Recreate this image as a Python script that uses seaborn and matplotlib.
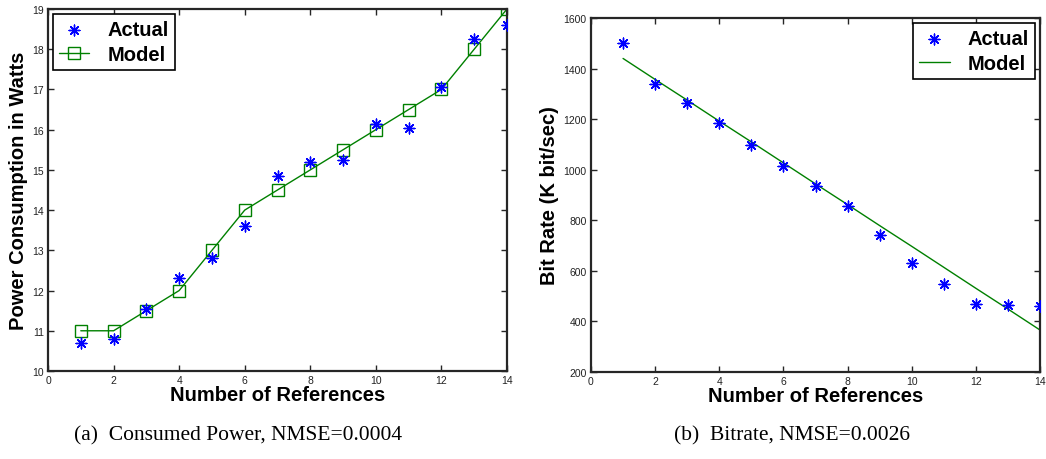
import numpy as np
import pandas as pd
import matplotlib
matplotlib.use('Agg')
import matplotlib.pyplot as plt
import seaborn as sns

# ---- data ----
refs = list(range(1, 15))

power_actual = [10.7, 10.8, 11.55, 12.3, 12.8, 13.6, 14.85, 15.2, 15.25, 16.15, 16.05, 17.05, 18.25, 18.6]
power_model = [11.0, 11.0, 11.5, 12.0, 13.0, 14.0, 14.5, 15.0, 15.5, 16.0, 16.5, 17.0, 18.0, 19.0]

bitrate_actual = [1500, 1340, 1262, 1183, 1098, 1015, 935, 855, 742, 630, 550, 470, 466, 462]
bitrate_model = [1440, 1357, 1275, 1192, 1110, 1027, 944, 862, 779, 697, 614, 531, 449, 366]

captions = ['(a)  Consumed Power, NMSE=0.0004', '(b)  Bitrate, NMSE=0.0026']

df_power = pd.DataFrame({'refs': refs, 'actual': power_actual, 'model': power_model})
df_bit = pd.DataFrame({'refs': refs, 'actual': bitrate_actual, 'model': bitrate_model})

sns.set_style('ticks')
plt.rcParams['font.family'] = ['Liberation Sans', 'DejaVu Sans']
plt.rcParams['text.color'] = 'black'
plt.rcParams['axes.labelcolor'] = 'black'

fig = plt.figure(figsize=(10.46, 4.6), dpi=100)
ax1 = fig.add_axes([0.0459, 0.1913, 0.4388, 0.787])
ax2 = fig.add_axes([0.565, 0.1891, 0.4293, 0.7696])

green = '#008000'
star = (8, 2, 0)

# left: power consumption
sns.scatterplot(data=df_power, x='refs', y='actual', ax=ax1, marker=star, color='blue',
                edgecolor='blue', s=60, linewidth=1.0, label='Actual', zorder=3)
sns.lineplot(data=df_power, x='refs', y='model', ax=ax1, color=green, linewidth=1.0,
             marker='s', markersize=8, markerfacecolor='none', markeredgecolor=green,
             markeredgewidth=1.0, label='Model')

# right: bitrate
sns.scatterplot(data=df_bit, x='refs', y='actual', ax=ax2, marker=star, color='blue',
                edgecolor='blue', s=60, linewidth=1.0, label='Actual', zorder=3)
sns.lineplot(data=df_bit, x='refs', y='model', ax=ax2, color=green, linewidth=1.0, label='Model')

for ax in (ax1, ax2):
    ax.set_xlim(0, 14)
    ax.set_xticks(np.arange(0, 15, 2))
    ax.tick_params(direction='in', length=4, width=1, labelsize=7.5, top=True, right=True,
                   labelcolor='#222222', pad=3)
    for sp in ax.spines.values():
        sp.set_visible(True)
        sp.set_linewidth(1.6)
    ax.set_xlabel('Number of References', fontsize=14.5, fontweight='bold', labelpad=0)

ax1.set_ylim(10, 19)
ax1.set_yticks(np.arange(10, 20, 1))
ax1.set_ylabel('Power Consumption in Watts', fontsize=14.5, fontweight='bold', labelpad=3)

ax2.set_ylim(200, 1600)
ax2.set_yticks(np.arange(200, 1601, 200))
ax2.set_ylabel('Bit Rate (K bit/sec)', fontsize=14.5, fontweight='bold', labelpad=3)

leg_kw = dict(fontsize=14.5, frameon=True, fancybox=False, edgecolor='black',
              borderaxespad=0.25, handlelength=1.5, borderpad=0.3, labelspacing=0.3,
              handletextpad=0.9)
leg1 = ax1.legend(loc='upper left', **leg_kw)
leg2 = ax2.legend(loc='upper right', **leg_kw)
for leg in (leg1, leg2):
    leg.get_frame().set_linewidth(1.2)
    leg.get_frame().set_alpha(1)
    for t in leg.get_texts():
        t.set_fontweight('bold')

fig.text(0.228, 0.052, captions[0], ha='center', va='center', fontsize=15.5, family='Liberation Serif')
fig.text(0.757, 0.052, captions[1], ha='center', va='center', fontsize=15.5, family='Liberation Serif')

fig.savefig('out.png', dpi=100)
